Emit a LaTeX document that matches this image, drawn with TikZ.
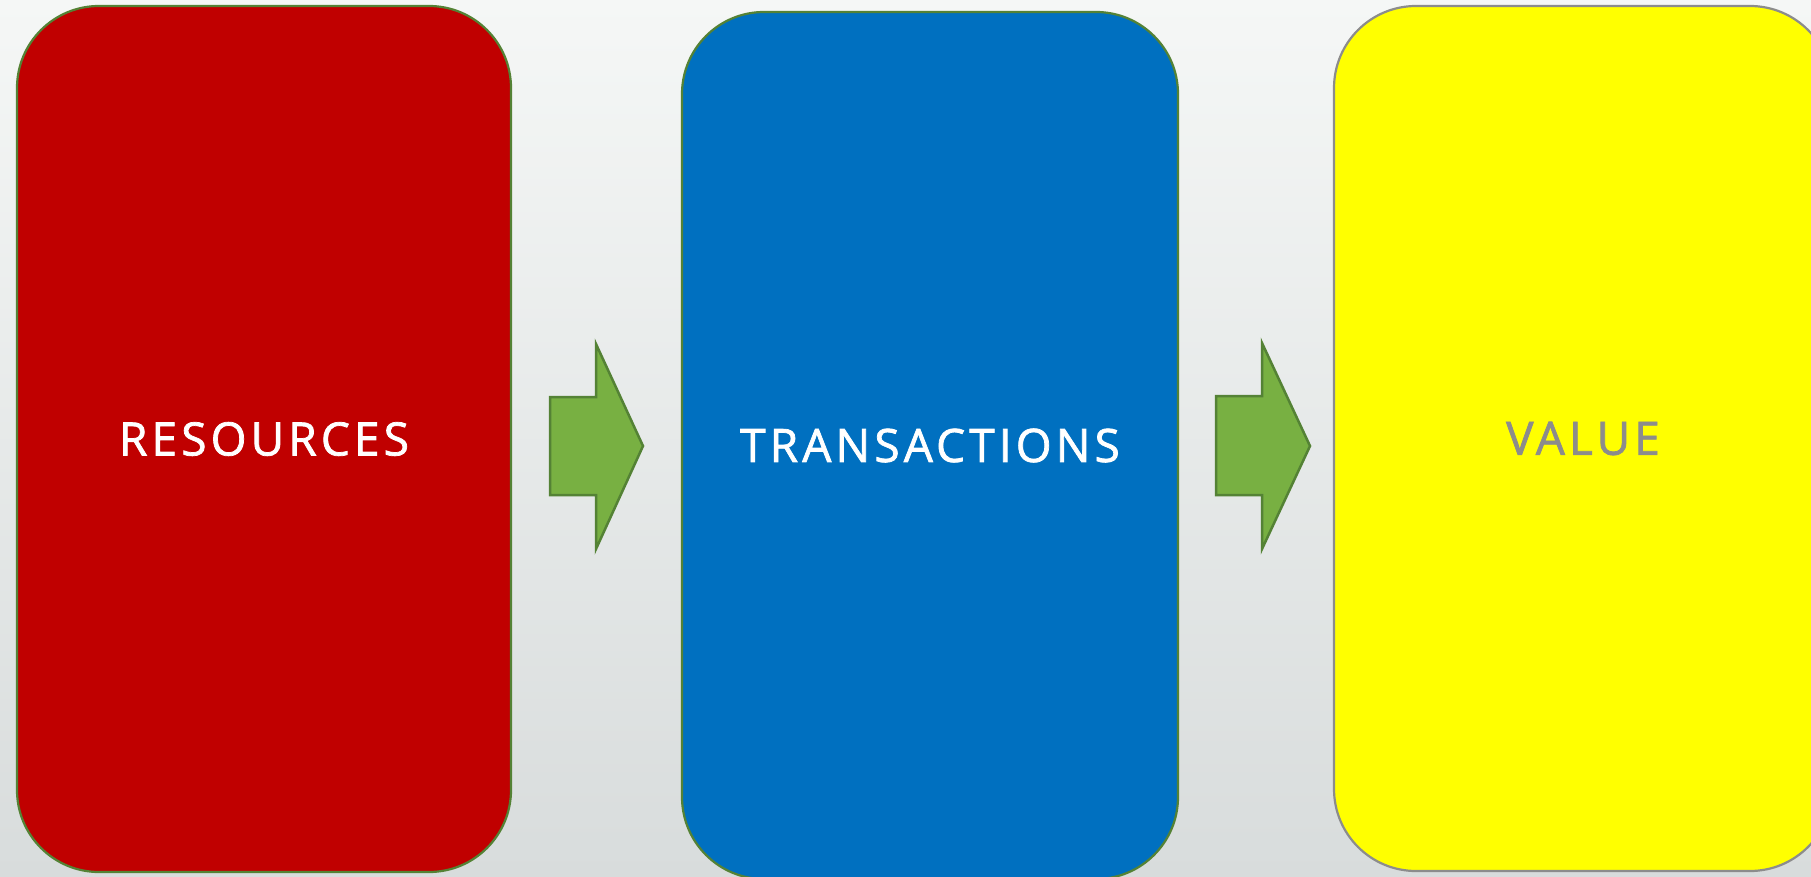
\documentclass[tikz,border=0pt]{standalone}
\usepackage{fontspec}
\setmainfont{Open Sans}[LetterSpace=9,FakeBold=1.6]
\definecolor{bgtop}{HTML}{F5F7F6}
\definecolor{bgbot}{HTML}{D8DCDC}
\definecolor{boxred}{HTML}{C00000}
\definecolor{boxblue}{HTML}{0070C0}
\definecolor{boxyellow}{HTML}{FFFF00}
\definecolor{edgegreen}{HTML}{548235}
\definecolor{arrowgreen}{HTML}{78B042}
\definecolor{edgegray}{HTML}{8C8C8C}
\tikzset{
  panel/.style={rectangle, rounded corners=82pt, line width=2.2pt, inner sep=0pt,
    font=\fontsize{46}{52}\selectfont},
  flowarrow/.style={fill=arrowgreen, draw=edgegreen, line width=2.5pt, line join=miter}
}
\begin{document}
\begin{tikzpicture}[x=1pt,y=-1pt]
\useasboundingbox (0,0) rectangle (1811,877);
\shade[top color=bgtop, bottom color=bgbot] (0,0) rectangle (1811,877);
\node[panel, draw=edgegreen, fill=boxred, text=white,
      minimum width=494pt, minimum height=866pt] (res) at (264,439) {RESOURCES};
\node[panel, draw=edgegreen, fill=boxblue, text=white,
      minimum width=496pt, minimum height=867pt] (tra) at (930,445.5) {TRANSACTIONS};
\node[panel, draw=edgegray, fill=boxyellow, text=edgegray,
      minimum width=498pt, minimum height=865pt] (val) at (1583,438.5) {VALUE};
\draw[flowarrow] (550,397) -- (596,397) -- (596,344) -- (643,446) -- (596,549) -- (596,495) -- (550,495) -- cycle;
\draw[flowarrow] (1216,396) -- (1262,396) -- (1262,343) -- (1310,446) -- (1262,549) -- (1262,495) -- (1216,495) -- cycle;
\end{tikzpicture}
\end{document}
